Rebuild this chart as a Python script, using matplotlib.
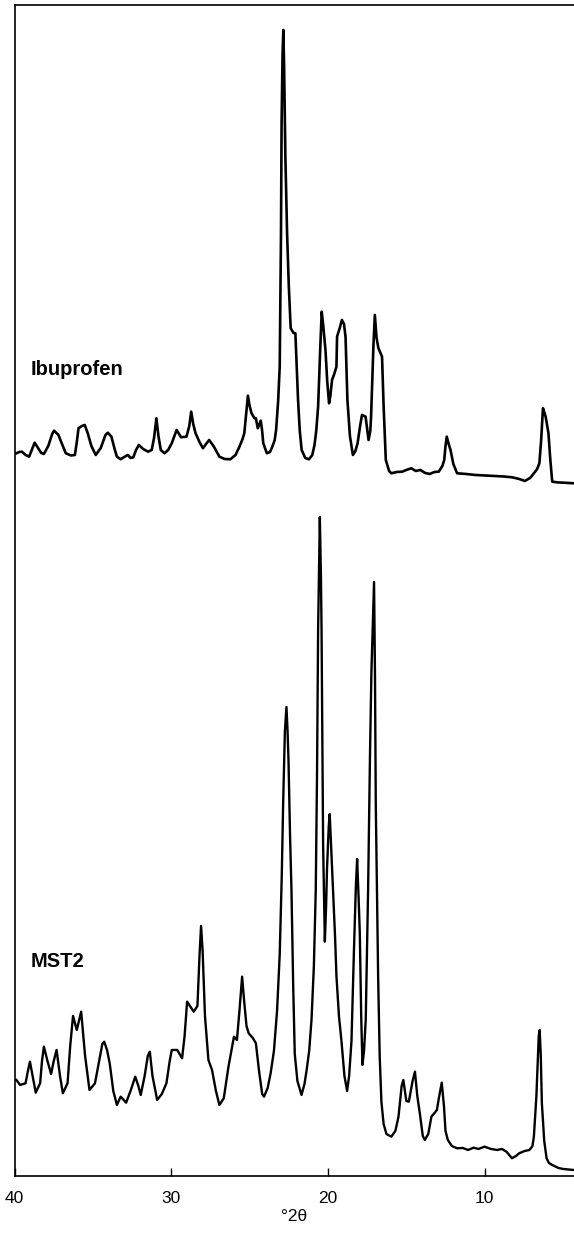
import matplotlib
matplotlib.use('Agg')
import matplotlib.pyplot as plt

plt.rcParams['font.family'] = ['Liberation Sans', 'DejaVu Sans']

# Ibuprofen pattern (degrees 2-theta, intensity above its own baseline)
ibu_2theta = [39.88, 39.7, 39.53, 39.3, 39.07, 38.9, 38.72, 38.5, 38.3, 38.13,
              37.85, 37.6, 37.48, 37.2, 37.0, 36.73, 36.4, 36.15, 36.02, 35.92,
              35.7, 35.52, 35.33, 35.1, 34.82, 34.5, 34.2, 34.05, 33.82, 33.6,
              33.47, 33.23, 33.0, 32.77, 32.6, 32.42, 32.25, 32.07, 31.8, 31.48,
              31.25, 31.1, 30.95, 30.82, 30.67, 30.43, 30.2, 29.97, 29.8, 29.66,
              29.5, 29.38, 29.03, 28.85, 28.73, 28.6, 28.45, 28.2, 27.98, 27.78,
              27.58, 27.28, 26.93, 26.6, 26.23, 25.9, 25.65, 25.45, 25.34, 25.2,
              25.11, 25.0, 24.88, 24.7, 24.6, 24.48, 24.29, 24.2, 24.13, 23.9,
              23.7, 23.55, 23.4, 23.31, 23.18, 23.08, 23.0, 22.96, 22.9, 22.85,
              22.8, 22.72, 22.61, 22.5, 22.38, 22.2, 22.08, 22.0, 21.91, 21.8,
              21.68, 21.45, 21.21, 21.0, 20.86, 20.75, 20.63, 20.5, 20.4, 20.3,
              20.16, 20.05, 19.93, 19.85, 19.74, 19.6, 19.46, 19.42, 19.25, 19.11,
              18.98, 18.88, 18.76, 18.6, 18.41, 18.25, 18.11, 17.95, 17.83, 17.6,
              17.41, 17.3, 17.25, 17.1, 17.01, 16.9, 16.78, 16.65, 16.55, 16.45,
              16.31, 16.1, 15.96, 15.6, 15.26, 15.0, 14.68, 14.4, 14.1, 13.8,
              13.51, 13.2, 12.93, 12.7, 12.58, 12.5, 12.42, 12.3, 12.18, 12.0,
              11.76, 11.2, 10.6, 10.0, 9.43, 8.8, 8.26, 7.8, 7.44, 7.1,
              6.86, 6.65, 6.51, 6.4, 6.28, 6.2, 6.11, 5.93, 5.81, 5.69,
              5.3, 4.99, 4.34]
ibu_counts = [32.7, 34, 34.3, 31, 29.3, 36, 43.3, 38, 33, 32,
              40, 52, 55.3, 51, 43, 32.7, 30.5, 31, 45, 57.7,
              60, 61, 52.7, 40, 31, 38, 51, 53.3, 49.3, 36,
              29.3, 26.7, 29, 31, 28, 28.7, 36, 41, 37, 34.3,
              36, 48, 67.7, 50, 36, 32.7, 36, 42.7, 50, 56,
              52, 48.7, 49.3, 60, 74.3, 62, 52.7, 44, 37.7, 42,
              46, 39.3, 29.3, 27, 26.7, 31, 39.3, 47, 52.7, 75,
              90.3, 80, 72.7, 68, 67.7, 57.7, 65.3, 55, 42.7, 32.7,
              34, 39.3, 46, 56, 85, 119.3, 250, 362.7, 430, 456,
              420, 330, 252.7, 200, 157.7, 153, 152.7, 120, 86, 55,
              36, 28, 26.7, 31, 41, 55, 79.3, 135, 174.3, 160,
              136, 105, 82.7, 90, 106, 112, 119.3, 149.3, 158, 166,
              162, 149.3, 86, 50, 31, 35, 42.7, 60, 71, 69.3,
              46, 55, 69.3, 140, 171, 148, 137.7, 133, 129.3, 80,
              26, 15, 12.7, 14, 14.3, 16, 17.7, 15, 16, 13,
              12, 14, 14.3, 20, 26, 40, 49.3, 42, 36, 22,
              12.7, 12, 11, 10.5, 10, 9.5, 8.7, 7, 5, 8,
              12.7, 17, 22.7, 45, 77.7, 74, 69.3, 52.7, 26, 4.3,
              3.5, 3.3, 2.7]

# MST2 pattern
mst_2theta = [39.88, 39.65, 39.3, 39.15, 39.02, 38.85, 38.65, 38.37, 38.25, 38.13,
              37.9, 37.67, 37.5, 37.32, 37.1, 36.92, 36.62, 36.45, 36.27, 36.03,
              35.75, 35.5, 35.22, 34.87, 34.6, 34.4, 34.28, 34.1, 33.93, 33.7,
              33.47, 33.23, 32.88, 32.58, 32.3, 32.1, 31.95, 31.7, 31.5, 31.37,
              31.2, 30.9, 30.6, 30.31, 30.1, 29.97, 29.62, 29.31, 29.15, 28.99,
              28.57, 28.33, 28.2, 28.1, 28.0, 27.85, 27.63, 27.4, 27.15, 26.93,
              26.65, 26.35, 26.0, 25.81, 25.65, 25.48, 25.35, 25.2, 25.06, 24.8,
              24.6, 24.4, 24.2, 24.08, 23.85, 23.66, 23.45, 23.25, 23.08, 22.95,
              22.86, 22.75, 22.65, 22.58, 22.52, 22.42, 22.33, 22.22, 22.12, 21.95,
              21.69, 21.5, 21.37, 21.2, 21.05, 20.9, 20.78, 20.7, 20.63, 20.52,
              20.45, 20.41, 20.36, 20.31, 20.2, 20.12, 20.06, 19.95, 19.89, 19.8,
              19.67, 19.55, 19.46, 19.3, 19.14, 18.95, 18.78, 18.65, 18.5, 18.35,
              18.22, 18.14, 18.05, 17.97, 17.88, 17.8, 17.7, 17.59, 17.44, 17.32,
              17.23, 17.06, 17.0, 16.95, 16.8, 16.7, 16.59, 16.45, 16.27, 15.96,
              15.7, 15.5, 15.3, 15.19, 15.0, 14.84, 14.6, 14.45, 14.3, 14.14,
              13.95, 13.82, 13.6, 13.4, 13.2, 13.05, 12.9, 12.74, 12.6, 12.5,
              12.35, 12.1, 11.76, 11.4, 11.06, 10.71, 10.4, 10.01, 9.6, 9.2,
              8.9, 8.61, 8.26, 8.0, 7.8, 7.45, 7.14, 6.95, 6.86, 6.7,
              6.55, 6.49, 6.42, 6.35, 6.2, 6.05, 5.9, 5.69, 5.3, 4.99, 4.34]
mst_counts = [96, 91, 92.7, 105, 114.3, 100, 83.3, 92.7, 115, 129.3,
              115, 102, 115, 126, 100, 82.7, 92.7, 130, 160, 146,
              164.3, 120, 86, 92.7, 115, 132, 134.3, 126, 112.7, 85,
              71, 79.3, 73.3, 86, 99.3, 90, 81, 100, 120, 124.3,
              100, 76, 82, 92.7, 115, 126, 126, 117.7, 140, 174.3,
              164.3, 170, 220, 250, 225, 160, 116, 106, 85, 71,
              77.7, 109.3, 139.3, 136, 165, 199.3, 175, 150, 142.7, 138,
              132.7, 105, 82, 79.3, 88, 102.7, 125, 165, 221.5, 300,
              373, 445, 469, 445, 416, 340, 286, 190, 122, 95,
              81, 92, 105, 125, 156.5, 210, 286, 400, 546, 659,
              600, 546, 430, 330, 234.4, 270, 308, 350, 362, 330,
              286, 240, 200, 160, 135, 100, 85, 100, 135, 221.5,
              290, 317, 280, 243, 160, 111, 125, 156.5, 286, 420,
              503, 594, 500, 373, 200, 120, 74, 52, 42, 39.3,
              45, 59.3, 90, 96, 75, 74.3, 95, 104.3, 80, 62.7,
              40, 36, 42, 59.3, 63, 66, 80, 93.3, 70, 45,
              36, 30, 27.7, 28, 26, 28.3, 27, 29.3, 27, 26,
              27, 24.3, 17.7, 20, 22.7, 25, 26, 30, 39.3, 80,
              140, 146, 120, 72.7, 35, 17.7, 13, 11, 8, 7, 6]

ibu_offset = 690
xticks = [40, 30, 20, 10]

fig = plt.figure(figsize=(5.74, 12.41), dpi=100)
ax = fig.add_axes([0.0254, 0.0524, 0.9746, 0.9436])

ax.plot(ibu_2theta, [c + ibu_offset for c in ibu_counts], color='black', lw=1.9)
ax.plot(mst_2theta, mst_counts, color='black', lw=1.7)

ax.set_xlim(40, 4.3)
ax.set_ylim(0, 1171)

ax.text(39.0, 690 + 116, 'Ibuprofen', fontsize=14.5, fontweight='bold', va='center', ha='left')
ax.text(39.0, 214, 'MST2', fontsize=14.5, fontweight='bold', va='center', ha='left')

ax.set_xticks(xticks)
ax.set_xticklabels([str(t) for t in xticks], fontsize=12.5)
ax.tick_params(axis='x', direction='in', length=6, width=1, pad=11)
ax.set_yticks([])
ax.spines['right'].set_visible(False)
for s in ['left', 'top', 'bottom']:
    ax.spines[s].set_linewidth(1.2)
ax.set_xlabel('°2θ', fontsize=12.5, labelpad=2)

fig.savefig('out.png', dpi=100)
